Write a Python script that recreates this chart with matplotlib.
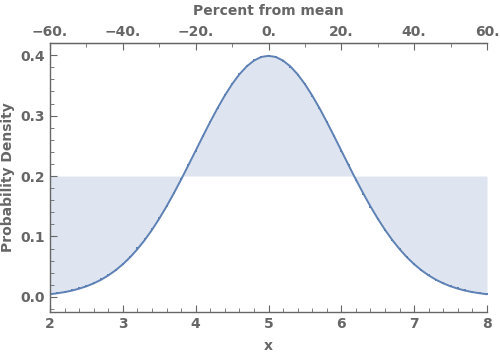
import matplotlib.pyplot as plt
import numpy as np
from matplotlib.ticker import MultipleLocator, FixedLocator, FuncFormatter

# density curve, read at x = 2.0, 2.1, ..., 8.0
x = [round(2 + 0.1 * i, 1) for i in range(61)]
half = [0.0044, 0.0060, 0.0079, 0.0104, 0.0136, 0.0175, 0.0224, 0.0283, 0.0355, 0.0440,
        0.0540, 0.0656, 0.0790, 0.0940, 0.1109, 0.1295, 0.1497, 0.1714, 0.1942, 0.2179,
        0.2420, 0.2661, 0.2897, 0.3123, 0.3332, 0.3521, 0.3683, 0.3814, 0.3910, 0.3970]
density = half + [0.3989] + half[::-1]

# sample points sitting on the curve
dots = [0.0050, 0.0066, 0.0086, 0.0112, 0.0144, 0.0183, 0.0232, 0.0292, 0.0364, 0.0450,
        0.0552, 0.0668, 0.0802, 0.0952, 0.1120, 0.1305, 0.1505, 0.1720, 0.1945, 0.2180,
        0.2420, 0.2660, 0.2895, 0.3122, 0.3333, 0.3523, 0.3686, 0.3818, 0.3914, 0.3972,
        0.3990, 0.3970, 0.3908, 0.3811, 0.3680, 0.3518, 0.3328, 0.3119, 0.2893, 0.2657,
        0.2416, 0.2175, 0.1938, 0.1710, 0.1494, 0.1292, 0.1107, 0.0939, 0.0790, 0.0657,
        0.0542, 0.0443, 0.0358, 0.0287, 0.0228, 0.0179, 0.0140, 0.0108, 0.0083, 0.0063,
        0.0047]
level = 0.2
pct_ticks = [-60, -40, -20, 0, 20, 40, 60]
pct_minor = [-50, -30, -10, 10, 30, 50]

line_c = '#5e81b5'
gray = '#666666'

fig = plt.figure(figsize=(5, 3.56), dpi=100)
ax = fig.add_axes([0.1, 0.1236, 0.874, 0.7554])

ax.fill_between(x, density, level, color=line_c, alpha=0.2, lw=0)
ax.plot(x, density, color=line_c, lw=1.4)
ax.plot(x, dots, 's', color=line_c, ms=2, mew=0)

ax.set_xlim(2, 8)
ax.set_ylim(-0.025, 0.42)

ax.spines['right'].set_visible(False)
for s in ['left', 'bottom', 'top']:
    ax.spines[s].set_color(gray)
    ax.spines[s].set_linewidth(1)

ax.xaxis.set_major_locator(MultipleLocator(1))
ax.xaxis.set_minor_locator(MultipleLocator(0.2))
ax.yaxis.set_major_locator(MultipleLocator(0.1))
ax.yaxis.set_minor_locator(MultipleLocator(0.02))
ax.yaxis.set_major_formatter(FuncFormatter(lambda v, p: f'{v:.1f}'))
ax.tick_params(which='both', direction='in', color=gray, labelcolor=gray)
ax.tick_params(which='major', length=5, labelsize=10)
ax.tick_params(which='minor', length=3)
for lab in ax.get_xticklabels() + ax.get_yticklabels():
    lab.set_fontweight('bold')

top = ax.secondary_xaxis('top', functions=(lambda v: (v - 5) * 20, lambda p: p / 20 + 5))
top.xaxis.set_major_locator(FixedLocator(pct_ticks))
top.xaxis.set_minor_locator(FixedLocator(pct_minor))
top.xaxis.set_major_formatter(FuncFormatter(lambda v, p: f'{int(round(v))}.'.replace('-', '\u2212')))
top.tick_params(which='both', direction='in', color=gray, labelcolor=gray)
top.tick_params(which='major', length=5, labelsize=10, pad=3)
top.tick_params(which='minor', length=3)
top.spines['top'].set_color(gray)
for lab in top.get_xticklabels():
    lab.set_fontweight('bold')
top.set_xlabel('Percent from mean', color=gray, fontsize=10, fontweight='bold', labelpad=7)

ax.set_xlabel('x', color=gray, fontsize=10, fontweight='bold', labelpad=6)
ax.set_ylabel('Probability Density', color=gray, fontsize=10, fontweight='bold', labelpad=4)

fig.savefig('out.png', dpi=100)
